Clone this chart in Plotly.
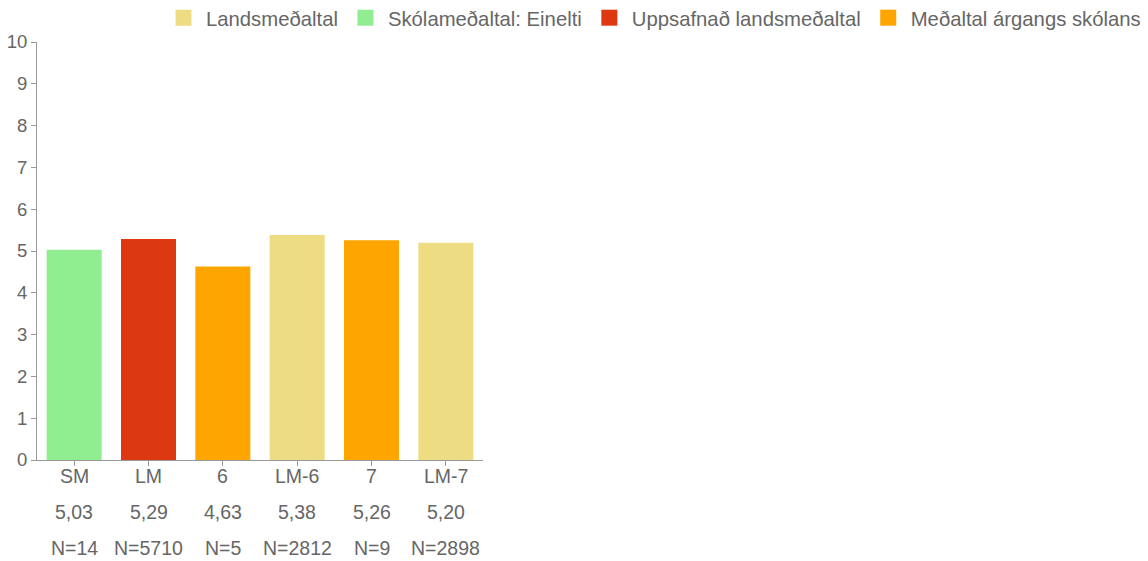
import plotly.graph_objects as go

categories = ['SM', 'LM', '6', 'LM-6', '7', 'LM-7']
values = [5.03, 5.29, 4.63, 5.38, 5.26, 5.20]
counts = [14, 5710, 5, 2812, 9, 2898]

# which legend group each bar belongs to
groups = ['Skólameðaltal: Einelti', 'Uppsafnað landsmeðaltal', 'Meðaltal árgangs skólans',
          'Landsmeðaltal', 'Meðaltal árgangs skólans', 'Landsmeðaltal']

series_order = ['Landsmeðaltal', 'Skólameðaltal: Einelti', 'Uppsafnað landsmeðaltal',
                'Meðaltal árgangs skólans']
colors = {
    'Landsmeðaltal': '#EEDC82',
    'Skólameðaltal: Einelti': '#90EE90',
    'Uppsafnað landsmeðaltal': '#DC3912',
    'Meðaltal árgangs skólans': '#FFA500',
}

FONT = 'Liberation Sans, Arial, sans-serif'
GREY = '#666'

fig = go.Figure()

for name in series_order:
    xs = [c for c, g in zip(categories, groups) if g == name]
    ys = [v for v, g in zip(values, groups) if g == name]
    fig.add_trace(go.Bar(
        x=xs, y=ys, name=name, legendgroup=name, showlegend=False,
        marker=dict(color=colors[name], line=dict(width=0)),
        hoverinfo='x+y',
    ))
    # bigger square swatch for the legend
    fig.add_trace(go.Scatter(
        x=[None], y=[None], mode='markers', name=name, legendgroup=name,
        marker=dict(symbol='square', size=16, color=colors[name]),
    ))

# three label rows under each bar: category, mean, N
annotations = []
for i, (c, v, n) in enumerate(zip(categories, values, counts)):
    for txt, shift in [(c, -16), (f'{v:.2f}'.replace('.', ','), -52), (f'N={n}', -88)]:
        annotations.append(dict(x=i, y=0, xref='x', yref='y', text=txt,
                                showarrow=False, yanchor='middle', yshift=shift,
                                font=dict(size=19.5, color=GREY)))

# page body adds an 8px offset, so the figure is 8px smaller than the window
fig.update_layout(
    width=1140, height=553,
    barmode='overlay', bargap=0.26,
    plot_bgcolor='white', paper_bgcolor='white',
    font=dict(family=FONT, color=GREY),
    margin=dict(l=29, r=665, t=34, b=101, autoexpand=False),
    showlegend=True,
    legend=dict(orientation='h', xref='paper', yref='paper',
                x=(1138 - 29) / 446, xanchor='right', y=(452 + 10) / 418, yanchor='top',
                font=dict(size=20.3, color=GREY), traceorder='normal', itemwidth=35),
    annotations=annotations,
)

fig.update_xaxes(
    type='category', categoryorder='array', categoryarray=categories,
    showline=True, linecolor='#999', linewidth=1,
    ticks='outside', ticklen=5, tickcolor='#999',
    showticklabels=False, showgrid=False,
)
fig.update_yaxes(
    range=[0, 10], dtick=1,
    showline=True, linecolor='#999', linewidth=1,
    ticks='outside', ticklen=5, tickcolor='#999',
    tickfont=dict(size=18.5, color=GREY),
    showgrid=False, zeroline=False,
)

fig.write_html('out.html')
